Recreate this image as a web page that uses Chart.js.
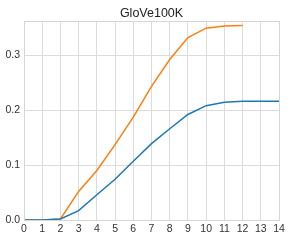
<!DOCTYPE html>
<html>
<head>
<meta charset="utf-8">
<script src="https://cdn.jsdelivr.net/npm/chart.js@4/dist/chart.umd.min.js"></script>
<style>
  html, body { margin: 0; padding: 0; background: #fff; }
</style>
</head>
<body>
<canvas id="c" width="291" height="240"></canvas>
<script>
const steps = [0, 1, 2, 3, 4, 5, 6, 7, 8, 9, 10, 11, 12, 13, 14];
const blueVals = [0, 0, 0.002, 0.017, 0.046, 0.074, 0.107, 0.139, 0.166, 0.192, 0.208, 0.214, 0.216, 0.216, 0.216];
const orangeVals = [0, 0, 0.002, 0.052, 0.090, 0.137, 0.187, 0.243, 0.292, 0.332, 0.349, 0.353, 0.354];
const yTicks = [0, 0.1, 0.2, 0.3];
const titleText = 'GloVe100K';

const pts = vals => vals.map((v, i) => ({ x: steps[i], y: v }));

// frame round the plot area + title centred over it
const frame = {
  id: 'frame',
  afterDraw(chart) {
    const a = chart.chartArea, ctx = chart.ctx;
    ctx.save();
    ctx.strokeStyle = '#d6d6d6';
    ctx.lineWidth = 1;
    ctx.strokeRect(Math.round(a.left) + 0.5, Math.round(a.top) + 0.5,
      Math.round(a.right - a.left), Math.round(a.bottom - a.top));
    ctx.fillStyle = '#222';
    ctx.font = '12.5px "Liberation Sans", Arial, sans-serif';
    ctx.textAlign = 'center';
    ctx.textBaseline = 'middle';
    ctx.fillText(titleText, (a.left + a.right) / 2, 13.5);
    ctx.restore();
  }
};

const tickFont = { family: '"Liberation Sans", Arial, sans-serif', size: 10.5 };

new Chart(document.getElementById('c'), {
  type: 'line',
  data: {
    datasets: [
      { data: pts(blueVals), borderColor: '#1f77b4', borderWidth: 1.5, pointRadius: 0, tension: 0 },
      { data: pts(orangeVals), borderColor: '#ff7f0e', borderWidth: 1.5, pointRadius: 0, tension: 0 },
    ],
  },
  options: {
    responsive: false,
    animation: false,
    layout: { padding: { left: 0, right: 12, top: 21, bottom: 0 } },
    plugins: {
      legend: { display: false },
      tooltip: { enabled: false },
      title: { display: false },
    },
    scales: {
      x: {
        type: 'linear',
        min: 0,
        max: 14,
        afterBuildTicks: ax => { ax.ticks = steps.map(v => ({ value: v })); },
        ticks: { color: '#333', font: tickFont, padding: 3, maxRotation: 0, autoSkip: false },
        grid: { color: '#dcdcdc', drawTicks: false },
        border: { color: '#d6d6d6' },
        afterFit: ax => { ax.height = 20; },
      },
      y: {
        min: 0,
        max: 0.362,
        afterBuildTicks: ax => { ax.ticks = yTicks.map(v => ({ value: v })); },
        ticks: { color: '#333', font: tickFont, padding: 4, callback: v => v.toFixed(1) },
        grid: { color: '#dcdcdc', drawTicks: false },
        border: { color: '#d6d6d6' },
        afterFit: ax => { ax.width = 24; },
      },
    },
  },
  plugins: [frame],
});
</script>
</body>
</html>
